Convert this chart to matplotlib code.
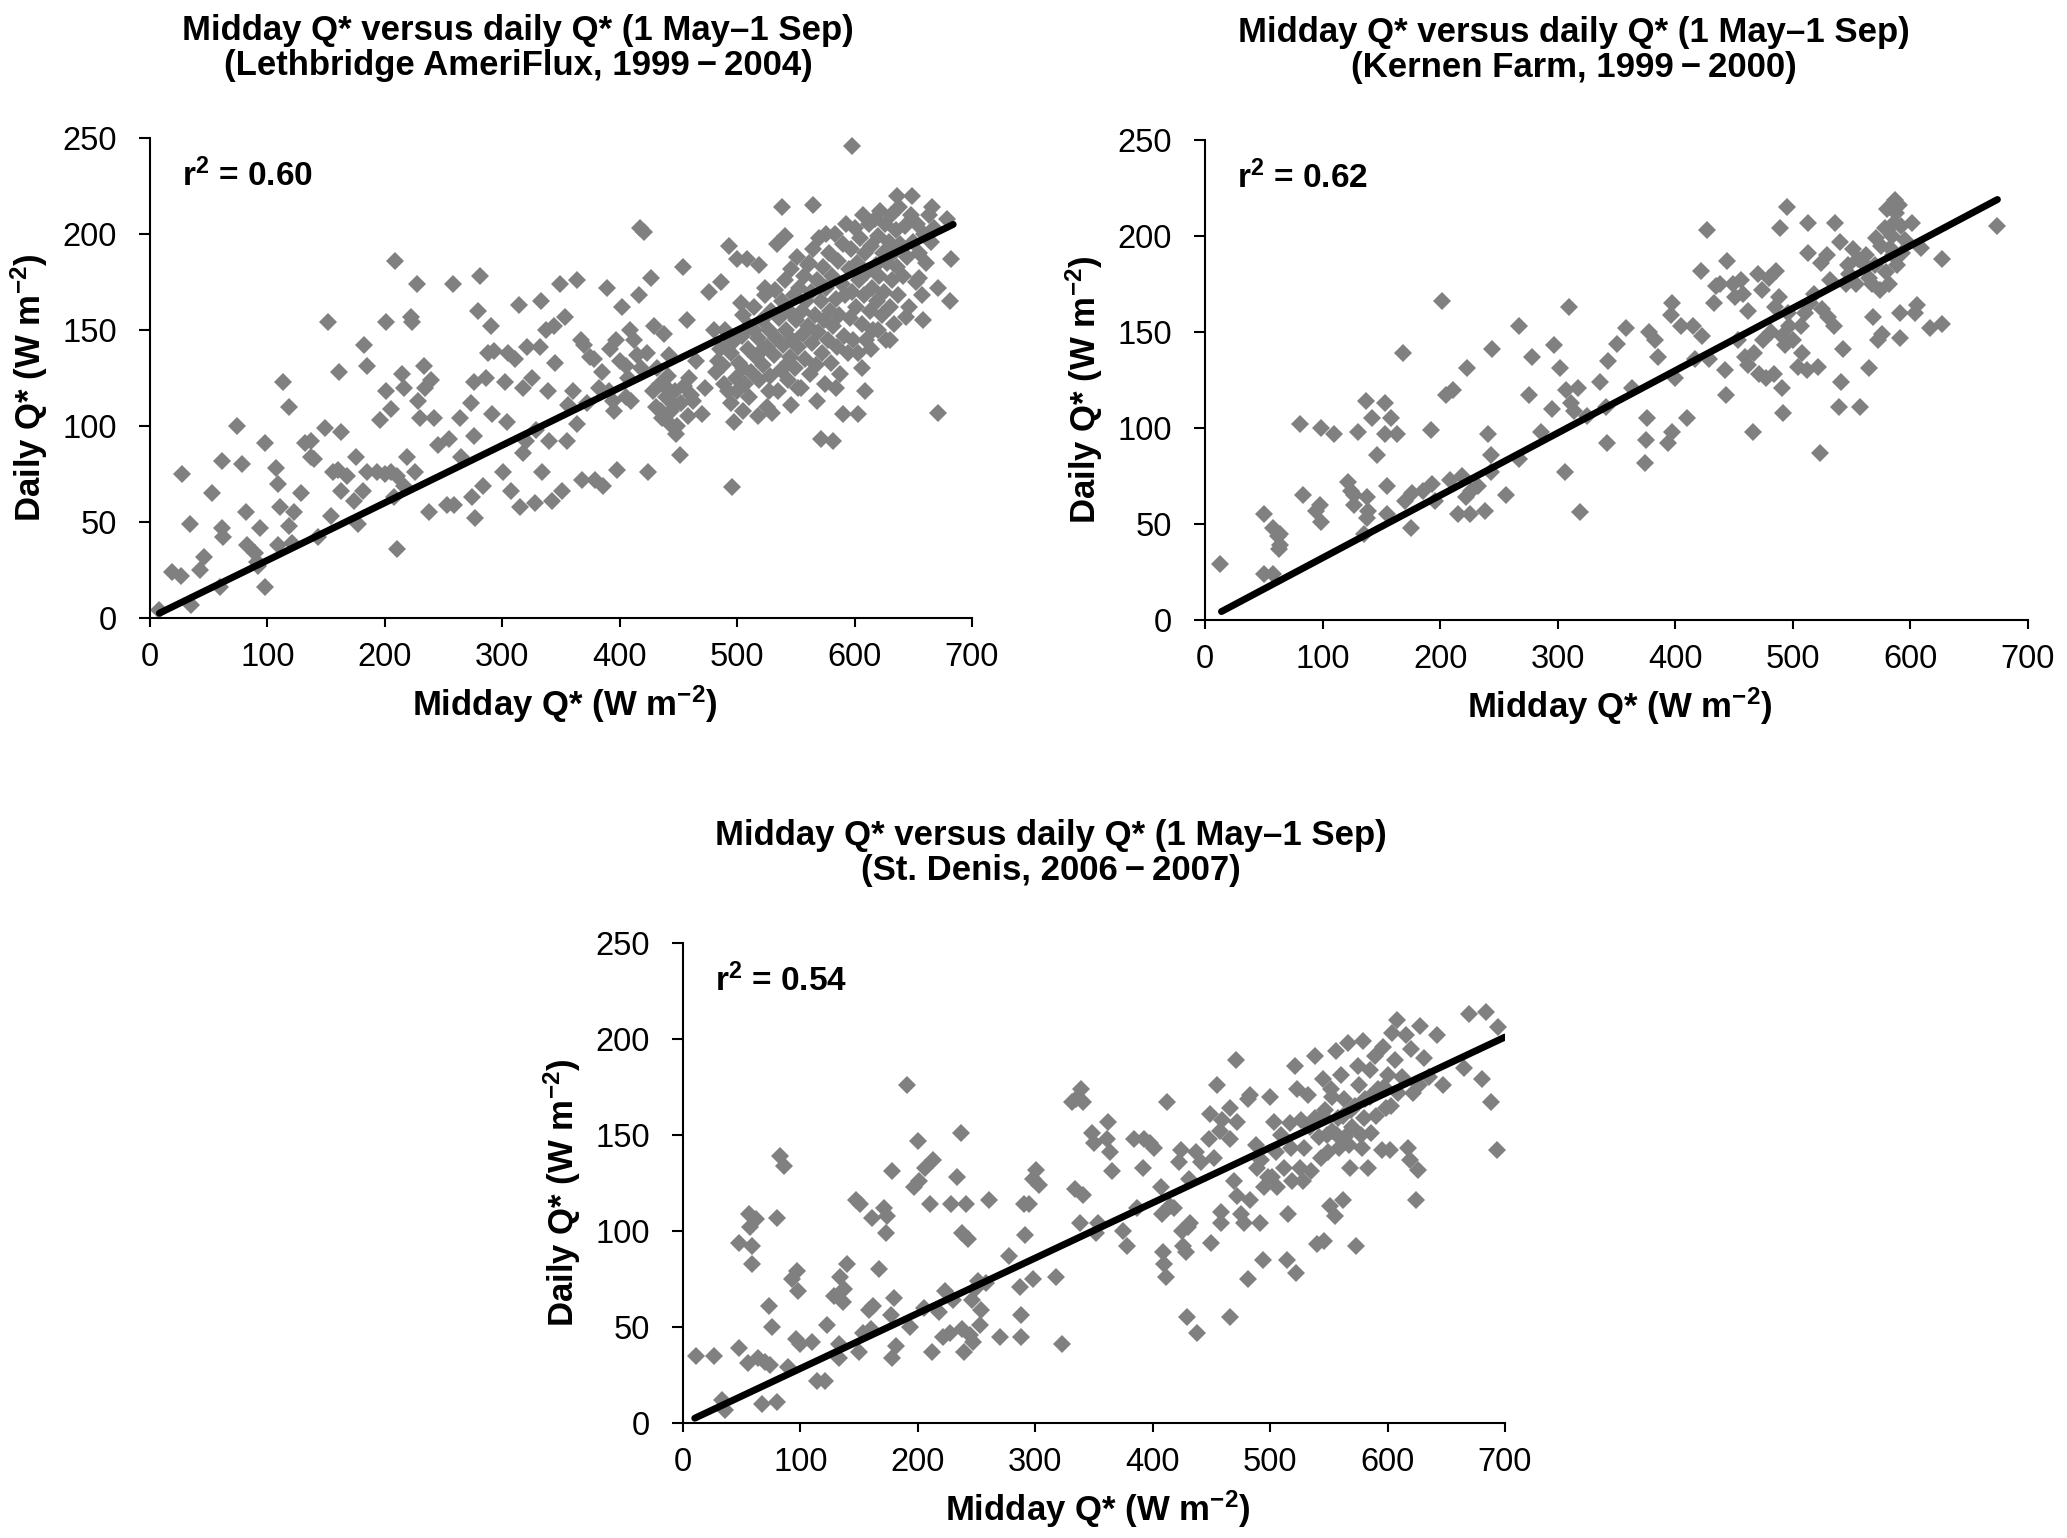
import numpy as np
import matplotlib
matplotlib.use("Agg")
import matplotlib.pyplot as plt

plt.rcParams['font.family'] = ['Liberation Sans', 'DejaVu Sans']
plt.rcParams['mathtext.fontset'] = 'custom'
plt.rcParams['mathtext.rm'] = 'Liberation Sans'
plt.rcParams['mathtext.bf'] = 'Liberation Sans:bold'
plt.rcParams['mathtext.it'] = 'Liberation Sans:italic'

# --- data: (midday Q*, daily Q*) in W m-2 ---
lethbridge_pts = np.array([
    (8, 4), (19, 24), (26, 22), (27, 75), (35, 7), (34, 49), (43, 25), (46, 32), (53, 65), (60, 16),
    (61, 47), (62, 42), (61, 82), (74, 100), (78, 80), (82, 55), (83, 38), (89, 34), (91, 29), (94, 47),
    (92, 27), (98, 91), (98, 16), (107, 78), (109, 70), (111, 58), (109, 38), (113, 123), (118, 110), (118, 48),
    (121, 39), (123, 55), (129, 65), (132, 91), (137, 92), (137, 84), (140, 83), (143, 42), (149, 99), (152, 154),
    (154, 53), (156, 76), (160, 77), (161, 128), (163, 97), (163, 66), (168, 74), (174, 61), (175, 84), (177, 49),
    (182, 142), (185, 131), (181, 66), (185, 76), (193, 76), (196, 103), (200, 75), (201, 154), (201, 118), (205, 109),
    (205, 76), (208, 63), (209, 186), (210, 74), (210, 36), (215, 127), (216, 120), (216, 69), (219, 84), (222, 157),
    (223, 154), (226, 76), (227, 174), (228, 113), (230, 104), (233, 131), (234, 120), (238, 55), (239, 124), (242, 104),
    (245, 90), (253, 59), (255, 93), (258, 174), (259, 59), (264, 104), (265, 84), (273, 112), (274, 63), (276, 95),
    (276, 123), (277, 52), (279, 160), (281, 178), (284, 69), (286, 125), (288, 138), (290, 152), (291, 106), (293, 139),
    (301, 76), (302, 123), (304, 102), (305, 138), (307, 66), (311, 135), (314, 163), (315, 58), (318, 86), (318, 120),
    (320, 92), (321, 141), (325, 125), (328, 60), (329, 98), (332, 141), (333, 165), (334, 76), (337, 150), (339, 118),
    (340, 92), (342, 61), (344, 152), (345, 133), (349, 174), (351, 66), (353, 157), (355, 92), (356, 111), (364, 176),
    (364, 101), (367, 145), (368, 72), (375, 136), (379, 72), (386, 69), (389, 172), (391, 118), (394, 113), (397, 145),
    (398, 77), (402, 162), (405, 131), (409, 150), (410, 113), (415, 137), (416, 168), (417, 203), (421, 201), (424, 76),
    (427, 177), (429, 152), (432, 130), (435, 108), (438, 148), (440, 120), (442, 137), (443, 101), (446, 111), (448, 96),
    (451, 85), (454, 183), (457, 155), (459, 125), (462, 113), (465, 134), (470, 106), (473, 120), (476, 170), (480, 150),
    (484, 134), (486, 175), (489, 122), (492, 142), (493, 194), (496, 68), (497, 102), (500, 187), (503, 164), (505, 130),
    (508, 187), (514, 150), (519, 184), (522, 140), (524, 172), (527, 118), (530, 107), (534, 195), (538, 214), (541, 199),
    (543, 133), (546, 111), (552, 120), (560, 184), (565, 215), (568, 113), (571, 93), (576, 200), (582, 92), (584, 120),
    (590, 106), (598, 246), (603, 106), (606, 130), (609, 118), (614, 140), (620, 150), (630, 145), (636, 220), (644, 157),
    (649, 220), (655, 177), (658, 155), (666, 214), (671, 172), (671, 107), (679, 208), (681, 165), (682, 187),
    (428, 118), (431, 110), (434, 122), (436, 104), (439, 115), (441, 126), (444, 108), (447, 118), (449, 100), (452, 112),
    (455, 121), (458, 105), (461, 116), (370, 142), (378, 135), (385, 128), (392, 140), (400, 134), (407, 125), (412, 145),
    (418, 130), (423, 138), (360, 118), (372, 112), (382, 120), (395, 108), (405, 115), (495, 112), (500, 118), (505, 108),
    (510, 115), (518, 105), (525, 110),
    (482, 128), (485, 140), (488, 132), (490, 150), (492, 118), (495, 138), (498, 145), (499, 125),
    (502, 133), (504, 147), (505, 158), (507, 122), (509, 140), (510, 152), (512, 128), (514, 162), (516, 136), (518, 146),
    (519, 124), (521, 155), (522, 132), (524, 168), (525, 141), (527, 150), (528, 126), (529, 160), (531, 137), (532, 171),
    (533, 146), (535, 118), (536, 156), (537, 129), (538, 165), (539, 142), (541, 176), (542, 150), (543, 124), (544, 160),
    (545, 136), (546, 182), (547, 145), (548, 168), (549, 130), (550, 155), (551, 188), (552, 141), (553, 172), (554, 120),
    (555, 160), (556, 148), (557, 178), (558, 135), (559, 165), (560, 152), (561, 185), (562, 127), (563, 170), (564, 143),
    (565, 192), (566, 158), (567, 132), (568, 176), (569, 149), (570, 198), (571, 165), (572, 138), (573, 183), (574, 155),
    (575, 122), (576, 172), (577, 145), (578, 190), (579, 160), (580, 133), (581, 178), (582, 152), (583, 200), (584, 166),
    (585, 141), (586, 186), (587, 158), (588, 127), (589, 174), (590, 195), (591, 147), (592, 168), (593, 205), (594, 138),
    (595, 182), (596, 156), (597, 192), (598, 170), (599, 145), (600, 203), (601, 162), (602, 185), (603, 138), (604, 176),
    (605, 198), (606, 153), (607, 210), (608, 168), (609, 190), (610, 145), (611, 180), (612, 205), (613, 160), (614, 194),
    (615, 172), (616, 150), (617, 208), (618, 184), (619, 165), (620, 199), (621, 178), (622, 212), (623, 158), (624, 190),
    (625, 170), (626, 205), (627, 145), (628, 185), (629, 196), (630, 162), (631, 210), (632, 176), (633, 190), (634, 153),
    (635, 202), (636, 183), (637, 168), (638, 214), (639, 195), (641, 178), (643, 204), (645, 188), (646, 162), (648, 210),
    (650, 196), (652, 175), (653, 205), (655, 190), (657, 168), (659, 200), (661, 185), (663, 210), (665, 196), (668, 203),
])

kernen_pts = np.array([
    (13, 29), (50, 55), (50, 24), (58, 24), (58, 48), (62, 44), (64, 45), (63, 37), (64, 39), (81, 102),
    (83, 65), (94, 57), (98, 60), (99, 100), (99, 51), (110, 97), (122, 72), (124, 67), (127, 60), (127, 65),
    (130, 98), (135, 45), (137, 114), (138, 53), (138, 64), (139, 57), (142, 105), (146, 86), (153, 113), (153, 97),
    (155, 70), (155, 55), (158, 105), (163, 97), (168, 139), (170, 62), (175, 48), (176, 66), (185, 67), (192, 99),
    (193, 71), (196, 62), (202, 166), (205, 117), (208, 73), (211, 120), (215, 55), (219, 75), (222, 64), (223, 131),
    (225, 55), (226, 67), (232, 70), (238, 57), (241, 97), (243, 77), (243, 86), (244, 141), (256, 65), (267, 153),
    (267, 84), (276, 117), (278, 137), (286, 98), (295, 110), (297, 143), (302, 131), (306, 77), (307, 120), (310, 163),
    (311, 113), (314, 109), (317, 121), (319, 56), (325, 106), (336, 124), (341, 111), (342, 92), (343, 135), (350, 144),
    (358, 152), (363, 121), (374, 82), (375, 94), (376, 105), (378, 150), (383, 146), (385, 137), (394, 92), (396, 159),
    (397, 165), (397, 98), (400, 126), (405, 153), (410, 105), (415, 153), (417, 136), (422, 182), (423, 148), (427, 203),
    (429, 136), (433, 165), (435, 174), (438, 175), (442, 130), (443, 117), (444, 187), (449, 175), (451, 168), (453, 146),
    (456, 177), (458, 170), (459, 137), (462, 161), (462, 133), (466, 98), (467, 139), (470, 180), (471, 128), (474, 172),
    (475, 146), (477, 126), (480, 178), (481, 150), (484, 128), (485, 163), (486, 182), (488, 168), (489, 204), (491, 148),
    (491, 121), (492, 108), (493, 143), (495, 215), (496, 160), (497, 153), (500, 146), (504, 132), (507, 153), (508, 139),
    (510, 160), (512, 130), (513, 191), (513, 207), (515, 165), (518, 170), (521, 132), (523, 87), (524, 186), (525, 162),
    (529, 190), (530, 158), (532, 177), (535, 153), (536, 207), (539, 111), (540, 197), (541, 124), (543, 141), (545, 175),
    (547, 185), (551, 193), (554, 175), (557, 111), (560, 186), (562, 190), (565, 131), (567, 175), (568, 158), (571, 199),
    (572, 146), (574, 172), (576, 149), (578, 204), (579, 181), (580, 214), (582, 175), (583, 194), (586, 207), (587, 219),
    (589, 185), (590, 216), (591, 160), (591, 147), (593, 191), (601, 207), (604, 160), (606, 164), (609, 194), (617, 152),
    (627, 188), (627, 154), (674, 205), (570, 185), (575, 195), (584, 200), (588, 212), (592, 205), (595, 198), (585, 190),
    (565, 178), (555, 188), (548, 180),
])

stdenis_pts = np.array([
    (11, 35), (26, 35), (33, 12), (36, 7), (48, 39), (48, 94), (55, 31), (56, 109), (57, 102), (59, 92),
    (59, 83), (62, 106), (64, 34), (67, 10), (70, 32), (73, 61), (74, 30), (76, 50), (80, 107), (80, 11),
    (83, 139), (86, 134), (89, 29), (93, 75), (96, 44), (97, 79), (98, 69), (100, 41), (110, 42), (114, 22),
    (121, 22), (123, 51), (129, 66), (133, 41), (133, 34), (134, 76), (136, 63), (137, 70), (140, 83), (147, 116),
    (150, 37), (151, 114), (153, 47), (158, 59), (160, 49), (161, 107), (162, 61), (167, 80), (171, 112), (173, 99),
    (174, 108), (177, 56), (178, 34), (178, 131), (180, 65), (181, 40), (191, 176), (193, 50), (197, 123), (200, 147),
    (201, 126), (205, 60), (206, 133), (210, 114), (212, 37), (213, 137), (218, 58), (221, 45), (223, 69), (227, 47),
    (228, 114), (230, 64), (233, 128), (237, 151), (238, 49), (238, 99), (239, 37), (241, 114), (243, 96), (244, 46),
    (246, 64), (247, 42), (249, 70), (251, 74), (253, 51), (254, 59), (258, 73), (261, 116), (270, 45), (278, 87),
    (287, 71), (288, 45), (288, 56), (290, 114), (291, 98), (295, 114), (298, 75), (298, 127), (301, 132), (303, 124),
    (318, 76), (323, 41), (331, 167), (334, 122), (335, 169), (339, 174), (341, 167), (341, 119), (338, 104), (348, 151),
    (350, 146), (352, 99), (353, 104), (361, 148), (362, 157), (364, 141), (365, 131), (375, 100), (378, 92), (384, 148),
    (387, 112), (392, 133), (393, 148), (398, 146), (401, 143), (407, 123), (408, 109), (409, 89), (410, 83), (411, 76),
    (412, 167), (415, 113), (418, 112), (422, 136), (424, 142), (425, 100), (426, 92), (428, 89), (429, 55), (430, 102),
    (431, 127), (432, 104), (437, 141), (438, 47), (441, 136), (448, 148), (449, 161), (450, 94), (452, 138), (455, 176),
    (457, 152), (458, 110), (458, 104), (459, 158), (466, 164), (466, 55), (466, 148), (469, 126), (471, 189), (472, 157),
    (472, 118), (475, 109), (478, 104), (481, 169), (481, 75), (483, 171), (483, 116), (488, 145), (489, 133), (491, 104),
    (492, 137), (494, 85), (495, 123), (498, 128), (500, 170), (502, 128), (503, 157), (505, 141), (506, 123), (509, 150),
    (512, 133), (514, 85), (515, 109), (517, 156), (518, 143), (519, 126), (521, 186), (522, 78), (523, 174), (525, 133),
    (526, 158), (528, 126), (529, 143), (532, 171), (534, 154), (535, 131), (538, 191), (538, 159), (540, 93), (542, 149),
    (543, 138), (545, 179), (546, 95), (547, 163), (549, 141), (551, 113), (552, 174), (553, 152), (555, 108), (556, 194),
    (558, 159), (559, 143), (560, 181), (562, 116), (563, 169), (564, 149), (566, 198), (568, 133), (569, 163), (570, 154),
    (573, 92), (575, 186), (576, 176), (578, 143), (579, 199), (580, 159), (581, 169), (583, 133), (585, 184), (586, 151),
    (589, 191), (592, 174), (595, 142), (596, 196), (599, 164), (600, 181), (602, 142), (604, 203), (606, 189), (608, 210),
    (609, 172), (612, 180), (616, 202), (617, 143), (619, 137), (620, 195), (622, 172), (624, 116), (626, 132), (627, 176),
    (628, 207), (631, 190), (635, 180), (642, 202), (647, 176), (665, 185), (669, 213), (680, 179), (684, 214), (688, 167),
    (693, 142), (694, 206), (545, 160), (548, 150), (553, 170), (557, 150), (562, 160), (567, 145), (572, 165), (577, 150),
    (585, 170), (590, 160), (597, 175), (603, 165),
])

# regression lines as drawn (end points)
lethbridge_fit_x = [8, 684]
lethbridge_fit_y = [2.5, 205]
kernen_fit_x = [14, 674]
kernen_fit_y = [4.4, 219]
stdenis_fit_x = [10, 700]
stdenis_fit_y = [2.5, 201]

r2_labels = ['0.60', '0.62', '0.54']
titles = [
    'Midday Q* versus daily Q* (1 May\u20131 Sep)\n(Lethbridge AmeriFlux, 1999\u2009\u2212\u20092004)',
    'Midday Q* versus daily Q* (1 May\u20131 Sep)\n(Kernen Farm, 1999\u2009\u2212\u20092000)',
    'Midday Q* versus daily Q* (1 May\u20131 Sep)\n(St. Denis, 2006\u2009\u2212\u20092007)',
]
x_ticks = [0, 100, 200, 300, 400, 500, 600, 700]
y_ticks = [0, 50, 100, 150, 200, 250]

W, H = 2067, 1538
fig = plt.figure(figsize=(W / 100, H / 100), dpi=100)

# axes boxes in pixels: left, right, y of 0, y of 250
boxes = [(150, 972, 618, 138), (1205, 2028, 620, 140), (683, 1505, 1423, 943)]
panels = [
    (lethbridge_pts, lethbridge_fit_x, lethbridge_fit_y),
    (kernen_pts, kernen_fit_x, kernen_fit_y),
    (stdenis_pts, stdenis_fit_x, stdenis_fit_y),
]

for i, ((pts, fx, fy), (l, r, b, t)) in enumerate(zip(panels, boxes)):
    ax = fig.add_axes([l / W, 1 - b / H, (r - l) / W, (b - t) / H])
    ax.plot(pts[:, 0], pts[:, 1], ls='none', marker='D', ms=9.5,
            color='#808080', mew=0, clip_on=False, zorder=2)
    ax.plot(fx, fy, color='black', lw=5, solid_capstyle='round', zorder=3)

    ax.set_xlim(0, 700)
    ax.set_ylim(0, 250)
    ax.set_xticks(x_ticks)
    ax.set_yticks(y_ticks)
    for side in ['top', 'right']:
        ax.spines[side].set_visible(False)
    for side in ['left', 'bottom']:
        ax.spines[side].set_linewidth(1.5)
        ax.spines[side].set_color('black')
    ax.tick_params(axis='both', direction='out', width=1.5,
                   labelsize=23.5, colors='black')
    ax.tick_params(axis='y', length=8, pad=16)
    ax.tick_params(axis='x', length=6.5, pad=11)

    ax.text(0.504, -0.18, r'Midday Q* (W m$^{\mathbf{-2}}$)', transform=ax.transAxes,
            ha='center', va='center', fontsize=25, fontweight='bold')
    ax.text(-0.147, 0.48, r'Daily Q* (W m$^{\mathbf{-2}}$)', transform=ax.transAxes,
            ha='center', va='center', rotation=90, fontsize=25, fontweight='bold')
    ax.text(0.039, 0.922, r'r$^{\mathbf{2}}$ = ' + r2_labels[i], transform=ax.transAxes,
            ha='left', va='center', fontsize=24, fontweight='bold')
    ax.text(0.448, 1.1875, titles[i], transform=ax.transAxes, ha='center', va='center',
            fontsize=25, fontweight='bold', linespacing=1.085)

fig.savefig('out.png', dpi=100, facecolor='white')
